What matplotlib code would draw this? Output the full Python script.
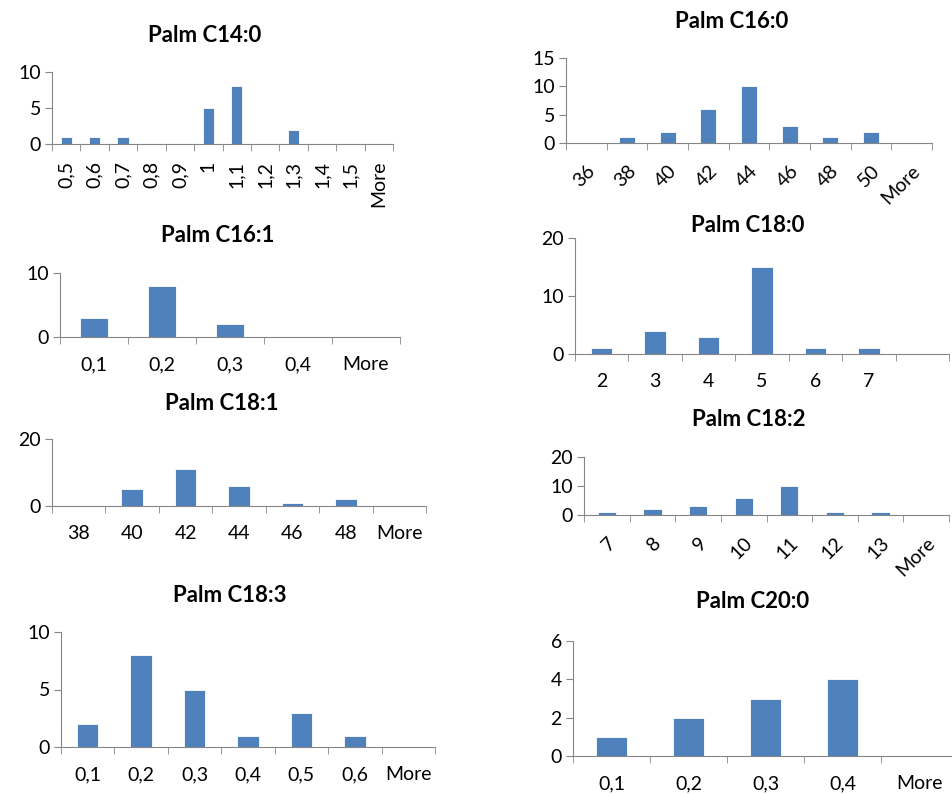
import matplotlib
matplotlib.use("Agg")
import matplotlib.pyplot as plt
from matplotlib import ticker

plt.rcParams['font.family'] = ['Lato', 'DejaVu Sans']

W, H = 952, 794
BAR = '#4F81BD'
AXIS = '#868686'

c140_labels = ['0,5', '0,6', '0,7', '0,8', '0,9', '1', '1,1', '1,2', '1,3', '1,4', '1,5', 'More']
c140_values = [1, 1, 1, 0, 0, 5, 8, 0, 2, 0, 0, 0]

c160_labels = ['36', '38', '40', '42', '44', '46', '48', '50', 'More']
c160_values = [0, 1, 2, 6, 10, 3, 1, 2, 0]

c161_labels = ['0,1', '0,2', '0,3', '0,4', 'More']
c161_values = [3, 8, 2, 0, 0]

c180_labels = ['2', '3', '4', '5', '6', '7', '']
c180_values = [1, 4, 3, 15, 1, 1, 0]

c181_labels = ['38', '40', '42', '44', '46', '48', 'More']
c181_values = [0, 5, 11, 6, 1, 2, 0]

c182_labels = ['7', '8', '9', '10', '11', '12', '13', 'More']
c182_values = [1, 2, 3, 6, 10, 1, 1, 0]

c183_labels = ['0,1', '0,2', '0,3', '0,4', '0,5', '0,6', 'More']
c183_values = [2, 8, 5, 1, 3, 1, 0]

c200_labels = ['0,1', '0,2', '0,3', '0,4', 'More']
c200_values = [1, 2, 3, 4, 0]

# (title, labels, values, ymax, ystep, rotation, axes box px (x0, ytop, x1, ybase), title px (x, y))
panels = [
    ('Palm C14:0', c140_labels, c140_values, 10, 5, 90, (52, 72, 393, 144), (205, 36)),
    ('Palm C16:0', c160_labels, c160_values, 15, 5, 45, (566, 58, 932, 143), (732, 22)),
    ('Palm C16:1', c161_labels, c161_values, 10, 10, 0, (60, 273, 400, 337), (218, 235)),
    ('Palm C18:0', c180_labels, c180_values, 20, 10, 0, (575, 238, 949, 354), (748, 225)),
    ('Palm C18:1', c181_labels, c181_values, 20, 20, 0, (52, 439, 426, 506), (222, 403)),
    ('Palm C18:2', c182_labels, c182_values, 20, 10, 45, (584, 457, 949, 515), (749, 420)),
    ('Palm C18:3', c183_labels, c183_values, 10, 5, 0, (61, 632, 435, 747), (230, 595)),
    ('Palm C20:0', c200_labels, c200_values, 6, 2, 0, (573, 641, 958, 756), (753, 602)),
]

fig = plt.figure(figsize=(W / 100, H / 100), dpi=100)

for title, labels, values, ymax, ystep, rot, box, tpos in panels:
    x0, ytop, x1, ybase = box
    ax = fig.add_axes([x0 / W, 1 - ybase / H, (x1 - x0) / W, (ybase - ytop) / H])
    n = len(values)
    ax.bar(range(n), values, width=0.4, color=BAR, edgecolor='white', linewidth=0.6, zorder=2)
    ax.set_xlim(-0.5, n - 0.5)
    ax.set_ylim(0, ymax)
    ax.yaxis.set_major_locator(ticker.MultipleLocator(ystep))
    ax.set_xticks(range(n))
    if rot == 45:
        ax.set_xticklabels(labels, rotation=45, ha='right', rotation_mode='anchor')
        pad = 14
    elif rot == 90:
        ax.set_xticklabels(labels, rotation=90)
        pad = 12
    else:
        ax.set_xticklabels(labels)
        pad = 14
    ax.set_xticks([i - 0.5 for i in range(n + 1)], minor=True)
    ax.tick_params(axis='x', which='major', length=0, pad=pad, labelsize=14)
    ax.tick_params(axis='x', which='minor', length=5, color=AXIS, direction='out')
    ax.tick_params(axis='y', length=5, color=AXIS, labelsize=14, pad=3)
    for s in ['top', 'right']:
        ax.spines[s].set_visible(False)
    ax.spines['left'].set_color(AXIS)
    ax.spines['bottom'].set_color(AXIS)
    fig.text(tpos[0] / W, 1 - tpos[1] / H, title, ha='center', va='center',
             fontsize=16, fontweight='bold')

fig.savefig('out.png', dpi=100)
